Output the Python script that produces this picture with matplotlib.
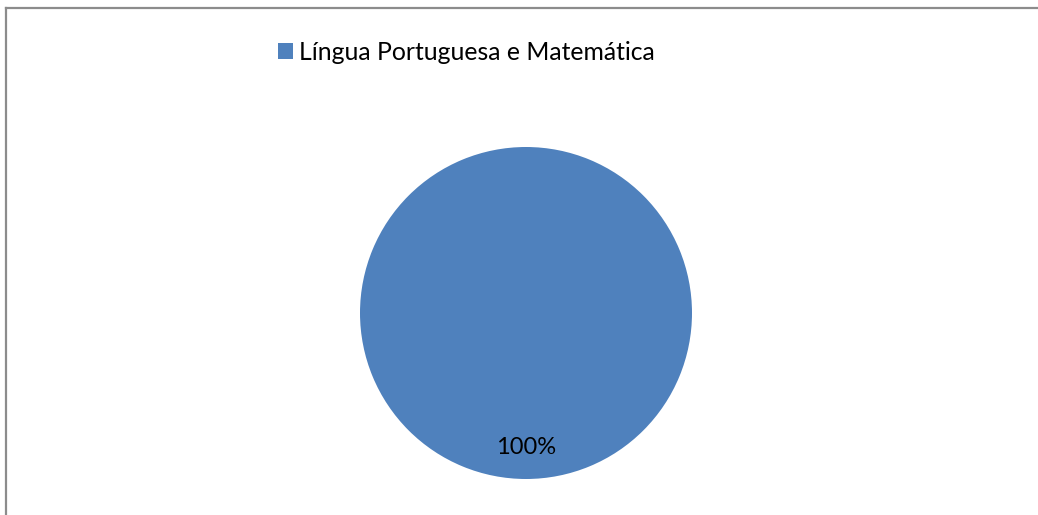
import matplotlib
matplotlib.use("Agg")
import matplotlib.pyplot as plt
from matplotlib.patches import Patch
from matplotlib.lines import Line2D

categories = ["Língua Portuguesa e Matemática"]
values = [100]
colors = ["#4F81BD"]

W, H = 1038, 515
dpi = 100
fig = plt.figure(figsize=(W / dpi, H / dpi), dpi=dpi)
fig.patch.set_facecolor("white")
plt.rcParams['font.family'] = ['Lato', 'DejaVu Sans']

# outer border (chart area, cropped on right and bottom)
bx, by = 5.5 / W, 1 - 7.5 / H
fig.add_artist(Line2D([bx, bx], [-0.01, by], transform=fig.transFigure,
                      color="#8c8c8c", linewidth=1.6, solid_capstyle="projecting"))
fig.add_artist(Line2D([bx, 1.01], [by, by], transform=fig.transFigure,
                      color="#8c8c8c", linewidth=1.6, solid_capstyle="projecting"))

# pie axes
cx, cy, r = 526, 313, 166
ax = fig.add_axes([(cx - r) / W, (H - cy - r) / H, 2 * r / W, 2 * r / H])
wedges, texts, autotexts = ax.pie(values, colors=colors, startangle=90,
                                  autopct=lambda p: f"{p:.0f}%",
                                  pctdistance=0.81, radius=1.0,
                                  textprops=dict(fontsize=17, color="black"))
ax.set_xlim(-1, 1)
ax.set_ylim(-1, 1)
ax.set_aspect("equal")
ax.axis("off")

handles = [Patch(facecolor=c, edgecolor="none") for c in colors]
fig.legend(handles, categories, loc="upper left",
           bbox_to_anchor=(278 / W, 1 - 41 / H), frameon=False,
           fontsize=17.8, handlelength=0.62, handleheight=0.62,
           handletextpad=0.22, borderpad=0, borderaxespad=0)

fig.savefig("out.png", dpi=dpi)
